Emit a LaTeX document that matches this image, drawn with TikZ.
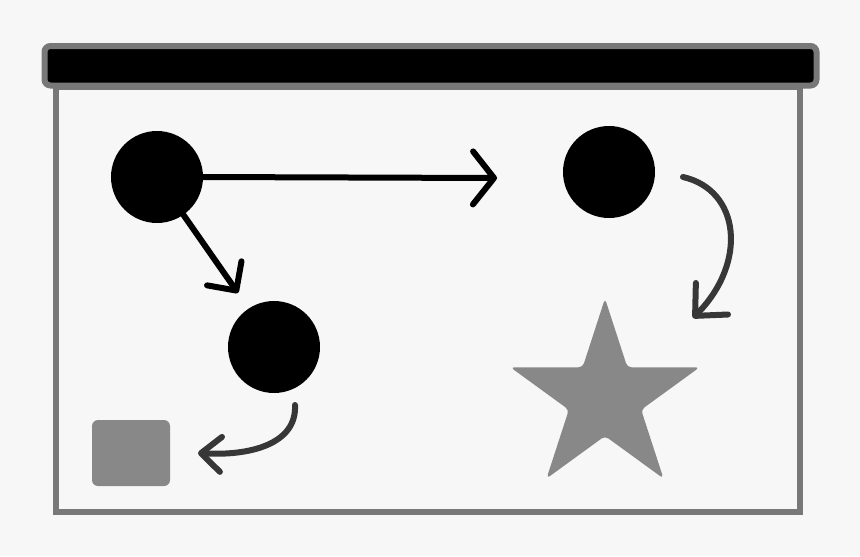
\documentclass[tikz,border=0pt]{standalone}
\usepackage{xcolor}
\usepackage{tikz}
\usetikzlibrary{arrows.meta,positioning,shapes.geometric}
\definecolor{bggray}{RGB}{247,247,247}
\definecolor{rimgray}{RGB}{120,120,120}
\definecolor{shapegray}{RGB}{136,136,136}
\definecolor{inkgray}{RGB}{55,55,55}

\begin{document}
\begin{tikzpicture}[
  x=0.2mm, y=-0.2mm,
  dot/.style={circle, fill=black, inner sep=0pt, minimum size=18.4mm},
  tile/.style={rectangle, fill=shapegray, rounded corners=1.2mm, inner sep=0pt,
               minimum width=15.6mm, minimum height=13.2mm},
  bigstar/.style={star, star points=5, star point ratio=2.618, fill=shapegray,
                  inner sep=0pt, minimum size=39.8mm, rounded corners=0.8mm},
  arr/.style={line width=1.2mm, line cap=round, line join=round, color=black},
  curl/.style={line width=1.2mm, line cap=round, line join=round, color=inkgray},
]

% Background and board
\useasboundingbox[fill=bggray] (0,0) rectangle (860,556);
\draw[rimgray, line width=1.2mm, fill=bggray] (56,87) rectangle (800,511.5);
\draw[rimgray, line width=1.2mm, fill=black, rounded corners=1.2mm] (44.5,46) rectangle (816.5,85.5);

% Shapes
\node[dot] (c1) at (157,177) {};
\node[dot] (c2) at (609,172) {};
\node[dot] (c3) at (274,347) {};
\node[tile] (sq) at (131,453) {};
\node[bigstar] (st) at (605,398) {};

% Free ends
\coordinate (a1end)   at (497,178);
\coordinate (a2end)   at (238,293);
\coordinate (a3start) at (683,177);
\coordinate (a3end)   at (693,318);
\coordinate (a4start) at (295,405);
\coordinate (a4end)   at (198,453);

% Straight arrows
\draw[arr, -{Straight Barb[length=4.2mm, width=10.6mm, round]}] (c1.east) -- (a1end);
\draw[arr, -{Straight Barb[length=4.2mm, width=8.4mm, round]}] (c1) -- (a2end);

% Curved arrows
\draw[curl, -{Straight Barb[length=4.8mm, width=9mm, round]}]
  (a3start) .. controls (740,190) and (748,262) .. (a3end);
\draw[curl, -{Straight Barb[length=4mm, width=7mm, round]}]
  (a4start) .. controls (297,445) and (248,456) .. (a4end);

\end{tikzpicture}
\end{document}
